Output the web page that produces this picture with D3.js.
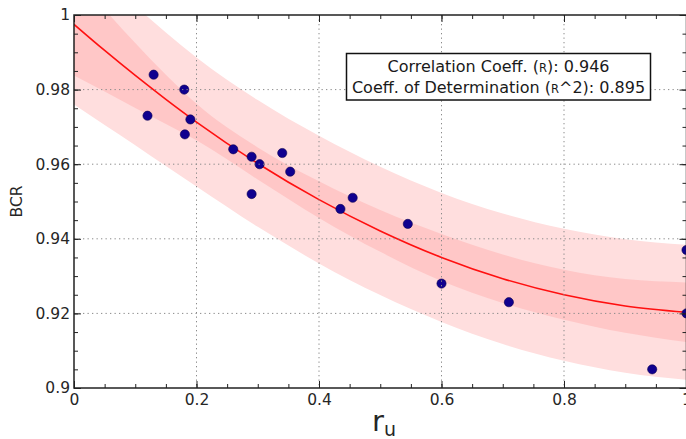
<!DOCTYPE html>
<html>
<head>
<meta charset="utf-8">
<script src="https://cdn.jsdelivr.net/npm/d3@7/dist/d3.min.js"></script>
<style>
  html, body { margin: 0; padding: 0; background: #fff; }
  svg { display: block; font-family: "DejaVu Sans", sans-serif; }
</style>
</head>
<body>
<svg id="chart" width="686" height="439"></svg>
<script>
// ---- Data ----
const pointX = [0.12, 0.13, 0.18, 0.181, 0.19, 0.26, 0.29, 0.303, 0.34, 0.353, 0.29, 0.435, 0.455, 0.545, 0.60, 0.71, 0.944, 1.0, 1.0];
const pointY = [0.973, 0.984, 0.980, 0.968, 0.972, 0.964, 0.962, 0.960, 0.963, 0.958, 0.952, 0.948, 0.951, 0.944, 0.928, 0.923, 0.905, 0.937, 0.920];

const curveX  = [0, 0.05, 0.1, 0.15, 0.2, 0.3, 0.4, 0.5, 0.6, 0.7, 0.8, 0.9, 1.0];
const fitY    = [0.9975, 0.9905, 0.9838, 0.9774, 0.9713, 0.9602, 0.9505, 0.9421, 0.9350, 0.9293, 0.9250, 0.9220, 0.9203];
const ciLow   = [0.9838, 0.9795, 0.9751, 0.9708, 0.9664, 0.9559, 0.9456, 0.9365, 0.9287, 0.9228, 0.9183, 0.9148, 0.9123];
const ciHigh  = [1.0112, 1.0015, 0.9925, 0.9840, 0.9762, 0.9645, 0.9554, 0.9477, 0.9413, 0.9358, 0.9317, 0.9292, 0.9283];
const piLow   = [0.9760, 0.9705, 0.9651, 0.9595, 0.9540, 0.9432, 0.9334, 0.9249, 0.9177, 0.9118, 0.9073, 0.9041, 0.9022];
const piHigh  = [1.0190, 1.0105, 1.0025, 0.9953, 0.9886, 0.9772, 0.9676, 0.9593, 0.9523, 0.9468, 0.9427, 0.9399, 0.9384];

const xTicks = [0, 0.2, 0.4, 0.6, 0.8, 1.0];
const xTickLabels = ["0", "0.2", "0.4", "0.6", "0.8", "1"];
const yTicks = [0.90, 0.92, 0.94, 0.96, 0.98, 1.00];
const yTickLabels = ["0.9", "0.92", "0.94", "0.96", "0.98", "1"];

const statR = "0.946";
const statR2 = "0.895";

// ---- Layout ----
const svg = d3.select("#chart");
const L = 74, R = 686.5, T = 15, B = 388;
const x = d3.scaleLinear().domain([0, 1]).range([L, R]);
const y = d3.scaleLinear().domain([0.9, 1.0]).range([B, T]);

const defs = svg.append("defs");
defs.append("clipPath").attr("id", "plotclip")
  .append("rect").attr("x", L).attr("y", T).attr("width", R - L).attr("height", B - T);

const plot = svg.append("g").attr("clip-path", "url(#plotclip)");

const rows = curveX.map((cx, i) => ({x: cx, f: fitY[i], cl: ciLow[i], ch: ciHigh[i], pl: piLow[i], ph: piHigh[i]}));
const curve = d3.curveMonotoneX;

// prediction band
plot.append("path").datum(rows)
  .attr("d", d3.area().curve(curve).x(d => x(d.x)).y0(d => y(d.pl)).y1(d => y(d.ph)))
  .attr("fill", "#ffdede");
// confidence band
plot.append("path").datum(rows)
  .attr("d", d3.area().curve(curve).x(d => x(d.x)).y0(d => y(d.cl)).y1(d => y(d.ch)))
  .attr("fill", "#ffc7c7");

// grid
const grid = svg.append("g").attr("stroke", "#8a8a8a").attr("stroke-width", 1).attr("stroke-dasharray", "1.3,3.2");
xTicks.slice(1, -1).forEach(v => {
  grid.append("line").attr("x1", x(v)).attr("x2", x(v)).attr("y1", T).attr("y2", B);
});
yTicks.slice(1, -1).forEach(v => {
  grid.append("line").attr("x1", L).attr("x2", R).attr("y1", y(v)).attr("y2", y(v));
});

// fit line
plot.append("path").datum(rows)
  .attr("d", d3.line().curve(curve).x(d => x(d.x)).y(d => y(d.f)))
  .attr("fill", "none").attr("stroke", "#ff1010").attr("stroke-width", 1.6);

// points
plot.selectAll("circle.pt").data(pointX.map((px, i) => ({x: px, y: pointY[i]})))
  .enter().append("circle")
  .attr("cx", d => x(d.x)).attr("cy", d => y(d.y)).attr("r", 4.6)
  .attr("fill", "#10008f").attr("stroke", "#0a0050").attr("stroke-width", 0.6);

// ---- Axes ----
const axisColor = "#222";
const minorX = d3.range(0, 1.0001, 0.05);
const minorY = d3.range(0.9, 1.0001, 0.005);

function styleAxis(g) {
  g.select(".domain").remove();
  g.selectAll(".tick line").attr("stroke", axisColor).attr("stroke-width", 1);
  g.selectAll(".tick text").attr("fill", "#262626").attr("font-size", 15.5).attr("font-family", "DejaVu Sans, sans-serif");
}

// bottom major + labels
svg.append("g").attr("transform", `translate(0,${B})`)
  .call(d3.axisBottom(x).tickValues(xTicks).tickFormat((d, i) => xTickLabels[i]).tickSize(-7).tickPadding(6))
  .call(styleAxis);
svg.append("g").attr("transform", `translate(0,${B})`)
  .call(d3.axisBottom(x).tickValues(minorX).tickFormat("").tickSize(-4)).call(styleAxis);
// top
svg.append("g").attr("transform", `translate(0,${T})`)
  .call(d3.axisTop(x).tickValues(xTicks).tickFormat("").tickSize(-7)).call(styleAxis);
svg.append("g").attr("transform", `translate(0,${T})`)
  .call(d3.axisTop(x).tickValues(minorX).tickFormat("").tickSize(-4)).call(styleAxis);
// left major + labels
svg.append("g").attr("transform", `translate(${L},0)`)
  .call(d3.axisLeft(y).tickValues(yTicks).tickFormat((d, i) => yTickLabels[i]).tickSize(-7).tickPadding(4))
  .call(styleAxis);
svg.append("g").attr("transform", `translate(${L},0)`)
  .call(d3.axisLeft(y).tickValues(minorY).tickFormat("").tickSize(-4)).call(styleAxis);
// right
svg.append("g").attr("transform", `translate(${R},0)`)
  .call(d3.axisRight(y).tickValues(yTicks).tickFormat("").tickSize(-7)).call(styleAxis);
svg.append("g").attr("transform", `translate(${R},0)`)
  .call(d3.axisRight(y).tickValues(minorY).tickFormat("").tickSize(-4)).call(styleAxis);

// spines
svg.append("rect").attr("x", L).attr("y", T).attr("width", R - L).attr("height", B - T)
  .attr("fill", "none").attr("stroke", axisColor).attr("stroke-width", 1.5);

// axis titles
svg.append("text").attr("transform", `translate(22,${(T + B) / 2}) rotate(-90)`)
  .attr("text-anchor", "middle").attr("font-size", 15.5).attr("fill", "#262626").text("BCR");

const xl = svg.append("text").attr("x", 372).attr("y", 431).attr("fill", "#262626");
xl.append("tspan").attr("font-size", 29).text("r");
xl.append("tspan").attr("font-size", 19).attr("dy", 5).text("u");

// stats box
const box = svg.append("g");
box.append("rect").attr("x", 346.5).attr("y", 53.5).attr("width", 304).attr("height", 46.5)
  .attr("fill", "#fff").attr("stroke", "#111").attr("stroke-width", 1.5);
const t1 = box.append("text").attr("x", 498.5).attr("y", 72).attr("text-anchor", "middle")
  .attr("font-size", 16).attr("fill", "#1a1a1a");
t1.append("tspan").text("Correlation Coeff. (");
t1.append("tspan").attr("font-size", 11.5).text("R");
t1.append("tspan").text("): " + statR);
const t2 = box.append("text").attr("x", 498.5).attr("y", 93).attr("text-anchor", "middle")
  .attr("font-size", 16).attr("fill", "#1a1a1a");
t2.append("tspan").text("Coeff. of Determination (");
t2.append("tspan").attr("font-size", 11.5).text("R");
t2.append("tspan").text("^2): " + statR2);
</script>
</body>
</html>
